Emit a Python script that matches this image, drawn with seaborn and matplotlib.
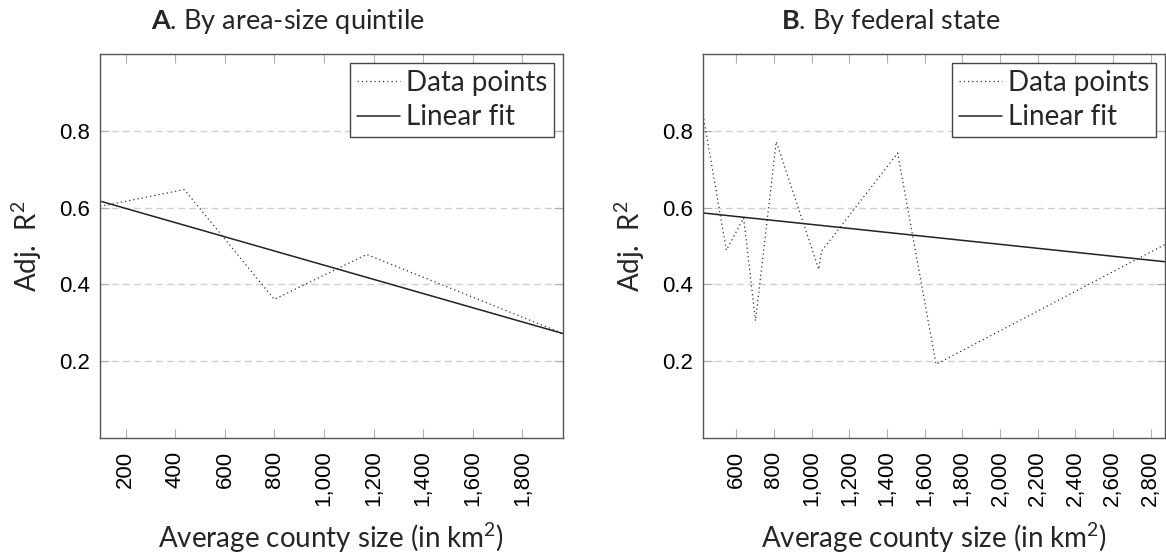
import matplotlib
matplotlib.use("Agg")
import matplotlib.pyplot as plt
from matplotlib.ticker import FuncFormatter, FixedLocator
import seaborn as sns
import pandas as pd

# ---- data ----
quint_size = [96, 436, 799, 1172, 1964]
quint_r2 = [0.603, 0.647, 0.361, 0.478, 0.272]
quint_fit_x = [96, 1964]
quint_fit_y = [0.617, 0.272]

state_size = [423, 547, 639, 702, 812, 1038, 1052, 1457, 1661, 2877]
state_r2 = [0.842, 0.489, 0.573, 0.305, 0.772, 0.439, 0.486, 0.742, 0.192, 0.504]
state_fit_x = [423, 2877]
state_fit_y = [0.586, 0.459]

xticks_a = [200, 400, 600, 800, 1000, 1200, 1400, 1600, 1800]
xticks_b = [600, 800, 1000, 1200, 1400, 1600, 1800, 2000, 2200, 2400, 2600, 2800]
yticks = [0.2, 0.4, 0.6, 0.8]

titles = [r"$\mathbf{A}$. By area-size quintile", r"$\mathbf{B}$. By federal state"]
xlabel = r"Average county size (in km$^{2}$)"
ylabel = r"Adj.  R$^{2}$"

sns.set_theme(style="white")
plt.rcParams["font.family"] = ["Lato", "DejaVu Sans"]
plt.rcParams["mathtext.fontset"] = "custom"
plt.rcParams["mathtext.rm"] = "Lato"
plt.rcParams["mathtext.it"] = "Lato:italic"
plt.rcParams["mathtext.bf"] = "Lato:bold"

W, H = 1166, 558
fig = plt.figure(figsize=(W / 100, H / 100), dpi=100)

ax_a = fig.add_axes([100 / W, (H - 438) / H, 463 / W, 384 / H])
ax_b = fig.add_axes([703 / W, (H - 438) / H, 462 / W, 384 / H])

panels = [
    (ax_a, quint_size, quint_r2, quint_fit_x, quint_fit_y, xticks_a, titles[0], 288),
    (ax_b, state_size, state_r2, state_fit_x, state_fit_y, xticks_b, titles[1], 891),
]

for ax, xs, ys, fx, fy, xt, title, tx in panels:
    df = pd.DataFrame({"x": xs, "y": ys})
    dfit = pd.DataFrame({"x": fx, "y": fy})
    sns.lineplot(data=df, x="x", y="y", ax=ax, color="#333333", linestyle=(0, (1, 2.4)),
                 linewidth=0.9, label="Data points", sort=False)
    sns.lineplot(data=dfit, x="x", y="y", ax=ax, color="#222222", linestyle="-",
                 linewidth=1.1, label="Linear fit", sort=False)
    ax.set_xlim(min(xs), max(xs))
    ax.set_ylim(0, 1.0)
    ax.xaxis.set_major_locator(FixedLocator(xt))
    ax.yaxis.set_major_locator(FixedLocator(yticks))
    ax.xaxis.set_major_formatter(FuncFormatter(lambda v, p: f"{v:,.0f}"))
    ax.yaxis.set_major_formatter(FuncFormatter(lambda v, p: f"{v:.1f}"))
    for lab in ax.get_xticklabels():
        lab.set_rotation(90)
    ax.tick_params(axis="both", which="major", direction="in", length=6.5, width=0.8,
                   color="#b0b0b0", labelsize=16, top=True, right=True, bottom=True, left=True,
                   labelcolor="black")
    ax.tick_params(axis="x", pad=9)
    ax.tick_params(axis="y", pad=7)
    for lab in ax.get_xticklabels() + ax.get_yticklabels():
        lab.set_fontfamily("Liberation Sans")
    ax.yaxis.grid(True, color="#cfcfcf", linestyle=(0, (5, 3)), linewidth=1.0)
    ax.xaxis.grid(False)
    ax.set_axisbelow(True)
    for s in ax.spines.values():
        s.set_color("#555555")
        s.set_linewidth(1.0)
    ax.set_xlabel(xlabel, fontsize=20)
    ax.set_ylabel(ylabel, fontsize=20)
    ax.xaxis.set_label_coords(0.5, -0.26)
    ax.yaxis.label.set_verticalalignment("center")
    ax.yaxis.set_label_coords(-0.158, 0.5)
    ax.xaxis.label.set_verticalalignment("center")
    leg = ax.legend(loc="upper right", fontsize=20, frameon=True, fancybox=False,
                    framealpha=1, edgecolor="#444444", handlelength=1.55,
                    handletextpad=0.2, borderpad=0.25, labelspacing=0.3,
                    borderaxespad=0.33)
    leg.get_frame().set_linewidth(1.0)
    fig.text(tx / W, 1 - 29 / H, title, ha="center", va="baseline", fontsize=19.5)

fig.savefig("out.png", dpi=100)
